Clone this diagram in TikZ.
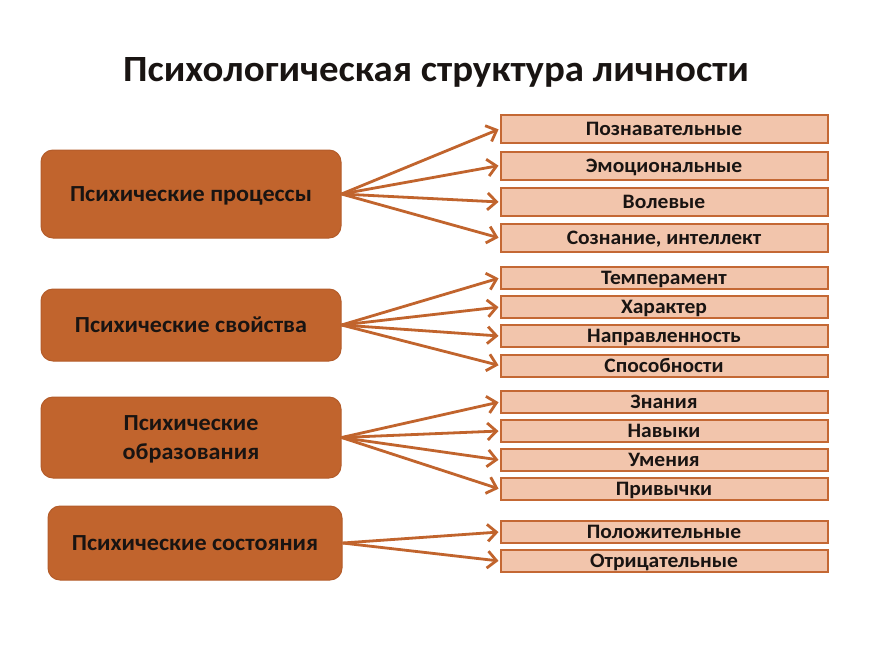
\documentclass[tikz,border=0pt]{standalone}
\usepackage{fontspec}
\setmainfont[FakeStretch=1.05]{Carlito}
\usetikzlibrary{arrows.meta}
\definecolor{mainor}{RGB}{193,100,45}
\definecolor{mainedge}{RGB}{180,92,42}
\definecolor{lightor}{RGB}{242,197,172}
\definecolor{edgeor}{RGB}{196,104,52}
\definecolor{txt}{RGB}{25,20,18}
\begin{document}
\begin{tikzpicture}[x=1pt,y=-1pt,
  leftbox/.style={draw=mainedge, line width=1pt, fill=mainor, rounded corners=12pt,
    minimum width=300pt, inner sep=0pt, align=center, text=txt, text depth=0pt,
    font=\bfseries\fontsize{23}{29}\selectfont},
  rightbox/.style={draw=edgeor, line width=2pt, fill=lightor, minimum width=327pt,
    inner sep=0pt, text=txt, text depth=0pt, text height=13.5pt,
    font=\bfseries\fontsize{20.5}{22}\selectfont},
  bigr/.style={rightbox, minimum height=28pt},
  smallr/.style={rightbox, minimum height=22pt},
  conn/.style={draw=mainor, line width=2.8pt,
    -{Straight Barb[length=9pt,width=17pt,line width=2.8pt]}, shorten >=1pt}
]
\useasboundingbox (0,0) rectangle (870,651);
\fill[white] (0,0) rectangle (870,651);

\node[font=\bfseries\fontsize{37}{40}\selectfont, text=txt] (title) at (436,72) {Психологическая структура личности};

\node[leftbox, minimum height=88pt] (p1) at (191,194) {Психические процессы};
\node[leftbox, minimum height=72pt] (p2) at (191,325) {Психические свойства};
\node[leftbox, minimum height=81pt] (p3) at (191,437.5) {Психические\\образования};
\node[leftbox, minimum height=74pt, minimum width=294pt] (p4) at (195,543) {Психические состояния};

\node[bigr] (a1) at (664,129) {Познавательные};
\node[bigr] (a2) at (664,165.5) {Эмоциональные};
\node[bigr] (a3) at (664,202) {Волевые};
\node[bigr] (a4) at (664,238) {Сознание, интеллект};

\node[smallr] (b1) at (664,278) {Темперамент};
\node[smallr] (b2) at (664,307) {Характер};
\node[smallr] (b3) at (664,336) {Направленность};
\node[smallr] (b4) at (664,365.5) {Способности};

\node[smallr] (c1) at (664,402) {Знания};
\node[smallr] (c2) at (664,431) {Навыки};
\node[smallr] (c3) at (664,460) {Умения};
\node[smallr] (c4) at (664,489) {Привычки};

\node[smallr] (d1) at (664,532) {Положительные};
\node[smallr] (d2) at (664,561) {Отрицательные};

\foreach \t in {a1,a2,a3,a4} \draw[conn] (p1.east) -- (\t.west);
\foreach \t in {b1,b2,b3,b4} \draw[conn] (p2.east) -- (\t.west);
\foreach \t in {c1,c2,c3,c4} \draw[conn] (p3.east) -- (\t.west);
\foreach \t in {d1,d2} \draw[conn] (p4.east) -- (\t.west);
\end{tikzpicture}
\end{document}
